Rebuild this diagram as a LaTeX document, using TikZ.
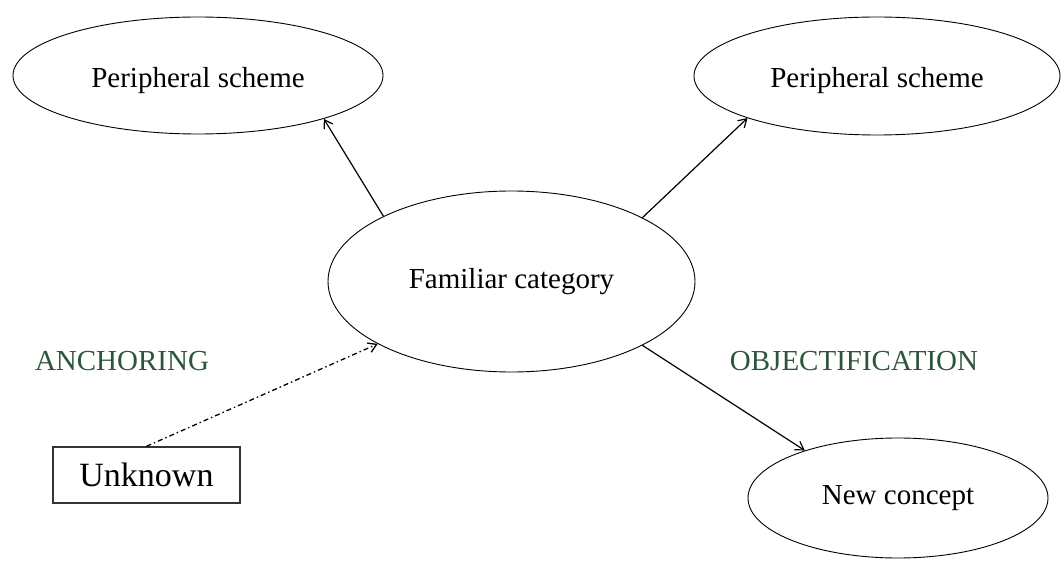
\documentclass[tikz,border=0pt]{standalone}
\usepackage{fontspec}
\setmainfont{Liberation Serif}
\usetikzlibrary{shapes.geometric,arrows.meta}
\definecolor{labgreen}{RGB}{45,85,60}
\begin{document}
\begin{tikzpicture}[x=1pt,y=-1pt,
  oval/.style={draw,ellipse,inner sep=0pt,line width=0.9pt,font=\fontsize{29}{34}\selectfont},
  conn/.style={line width=1.2pt,-{Straight Barb[length=8pt,width=10pt]}},
  dashdot/.style={line width=1.3pt,dash pattern=on 5pt off 3pt on 1.5pt off 3pt,-{Straight Barb[length=8pt,width=10pt]}},
  lab/.style={text=labgreen,font=\fontsize{29}{34}\selectfont,inner sep=0pt},
  box/.style={draw=black!80,line width=1.4pt,minimum width=187pt,minimum height=56pt,inner sep=0pt,font=\fontsize{34}{40}\selectfont}]
\useasboundingbox (0,0) rectangle (1061,561);
\node[oval,minimum width=370pt,minimum height=117pt] (tl) at (198,75.5) {\raisebox{-5pt}[\height][\depth]{Peripheral scheme}};
\node[oval,minimum width=366pt,minimum height=118pt] (tr) at (877,76) {\raisebox{-5pt}[\height][\depth]{Peripheral scheme}};
\node[oval,minimum width=367pt,minimum height=181pt] (c) at (511.5,281.5) {Familiar category};
\node[oval,minimum width=300pt,minimum height=120pt] (nc) at (898,498) {New concept};
\node[box] (u) at (146.5,475) {Unknown};
\node[lab] (anc) at (122,361) {ANCHORING};
\node[lab] (obj) at (854,361) {OBJECTIFICATION};
\draw[conn] (c.153.5) -- (tl.341.7);
\draw[conn] (c.26.3) -- (tr.198.4);
\draw[conn] (c.334) -- (nc.153.9);
\draw[dashdot] (u.north) -- (c.205.8);
\end{tikzpicture}
\end{document}
